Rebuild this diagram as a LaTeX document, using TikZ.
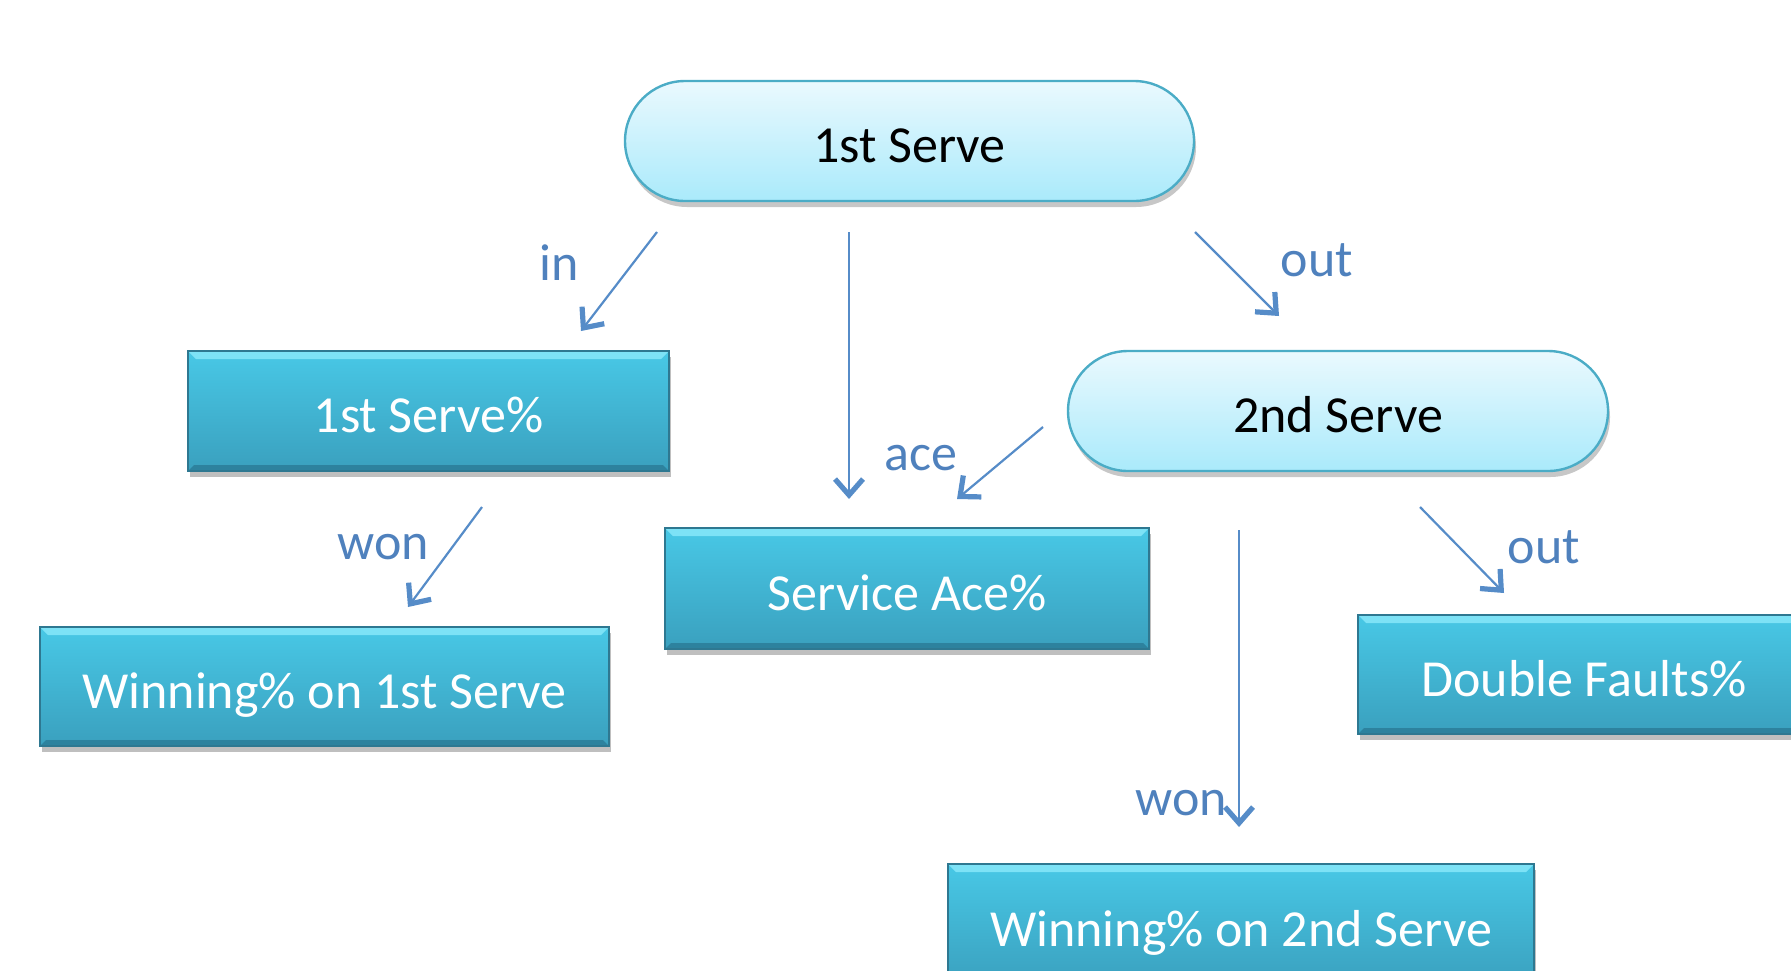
\documentclass[tikz,border=0pt]{standalone}
\usepackage{fontspec}
\setmainfont{Carlito}
\usetikzlibrary{arrows.meta,shapes.misc,shadows}
\definecolor{lbl}{RGB}{79,129,189}
\definecolor{arr}{RGB}{86,140,200}
\definecolor{boxtop}{RGB}{72,200,230}
\definecolor{boxbot}{RGB}{58,160,190}
\definecolor{boxedge}{RGB}{46,120,145}
\definecolor{boxhi}{RGB}{125,226,246}
\definecolor{boxlo}{RGB}{45,130,158}
\definecolor{pilltop}{RGB}{234,249,254}
\definecolor{pillbot}{RGB}{170,234,251}
\definecolor{pilledge}{RGB}{75,172,198}
\tikzset{
  pill/.style={rounded rectangle, draw=pilledge, line width=1.2pt,
    top color=pilltop, bottom color=pillbot, text=black,
    font=\fontsize{26}{30}\selectfont, inner sep=0pt,
    text height=21.8pt, text depth=0pt,
    drop shadow={shadow xshift=1pt, shadow yshift=-3pt, opacity=0.22, fill=black}},
  metric/.style={rectangle, draw=boxedge, line width=0.8pt,
    top color=boxtop, bottom color=boxbot, text=white,
    font=\fontsize{26}{30}\selectfont, inner sep=0pt,
    text height=21.8pt, text depth=0pt,
    path picture={
      \fill[boxhi] (path picture bounding box.north west) -- (path picture bounding box.north east)
        -- ([xshift=-4pt,yshift=-4pt]path picture bounding box.north east)
        -- ([xshift=4pt,yshift=-4pt]path picture bounding box.north west) -- cycle;
      \fill[boxlo] (path picture bounding box.south west) -- (path picture bounding box.south east)
        -- ([xshift=-3pt,yshift=3pt]path picture bounding box.south east)
        -- ([xshift=3pt,yshift=3pt]path picture bounding box.south west) -- cycle;
    },
    drop shadow={shadow xshift=1pt, shadow yshift=-3pt, opacity=0.25, fill=black}},
  conn/.style={draw=arr, line width=1.1pt, -{Straight Barb[length=8pt,width=14pt,line width=2.6pt]}},
  lab/.style={text=lbl, font=\fontsize{26}{30}\selectfont, inner sep=0pt}
}
\begin{document}
\begin{tikzpicture}[x=0.5pt,y=-0.5pt]
\useasboundingbox (0,0) rectangle (1791,970);
\clip (0,0) rectangle (1791,970);
% nodes
\node[pill, minimum width=284.5pt, minimum height=60pt] (s1) at (909.5,141) {1st Serve};
\node[metric, minimum width=240.5pt, minimum height=60pt] (p1) at (428.5,411) {1st Serve\%};
\node[metric, minimum width=284.5pt, minimum height=59.5pt] (w1) at (324.5,686.5) {Winning\% on 1st Serve};
\node[metric, minimum width=242pt, minimum height=60.5pt] (ace) at (907,588.5) {Service Ace\%};
\node[pill, minimum width=270pt, minimum height=60pt] (s2) at (1338,411) {2nd Serve};
\node[metric, minimum width=226pt, minimum height=59.5pt] (df) at (1584,674.5) {Double Faults\%};
\node[metric, minimum width=293pt, minimum height=61pt] (w2) at (1241,925) {Winning\% on 2nd Serve};
% connector end points
\coordinate (a1s) at (657,232); \coordinate (a1e) at (581,331);
\coordinate (a2s) at (849,232); \coordinate (a2e) at (849,499);
\coordinate (a3s) at (1043,427); \coordinate (a3e) at (957,499);
\coordinate (a4s) at (1195,232); \coordinate (a4e) at (1279,316);
\coordinate (a5s) at (482,507); \coordinate (a5e) at (408,607);
\coordinate (a6s) at (1420,507); \coordinate (a6e) at (1504,593);
\coordinate (a7s) at (1239,530); \coordinate (a7e) at (1239,827);
\draw[conn] (a1s) -- (a1e);
\draw[conn] (a2s) -- (a2e);
\draw[conn] (a3s) -- (a3e);
\draw[conn] (a4s) -- (a4e);
\draw[conn] (a5s) -- (a5e);
\draw[conn] (a6s) -- (a6e);
\draw[conn] (a7s) -- (a7e);
% labels
\node[lab] (lin) at (559,263) {in};
\node[lab] (lace) at (921,458) {ace};
\node[lab] (lout1) at (1317,260) {out};
\node[lab] (lwon1) at (383,547) {won};
\node[lab] (lout2) at (1544,547) {out};
\node[lab] (lwon2) at (1181,803) {won};
\end{tikzpicture}
\end{document}
